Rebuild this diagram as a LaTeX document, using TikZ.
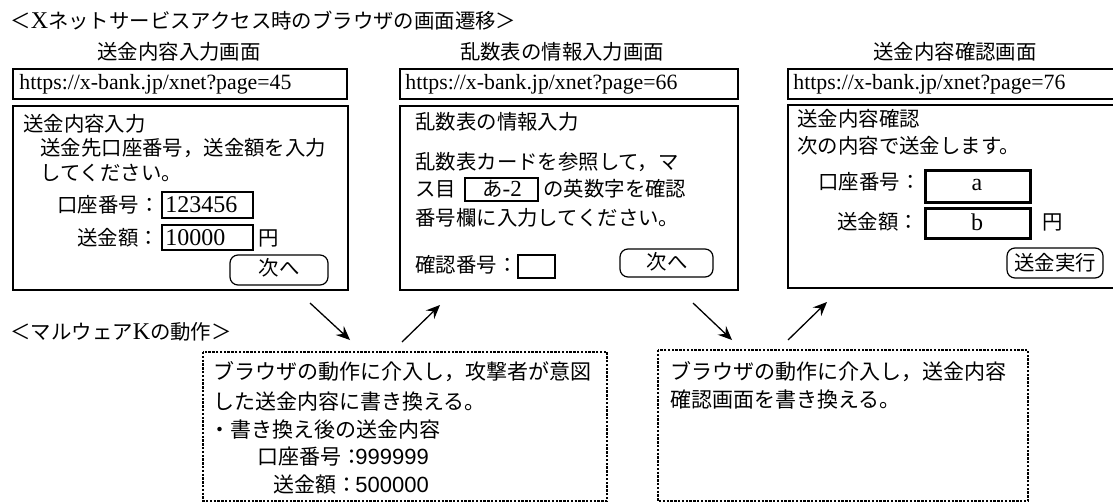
\documentclass[tikz,border=0pt]{standalone}
\usepackage{fontspec}
\setmainfont{Liberation Serif}
\newfontfamily\jp{Noto Sans CJK JP}
\newfontfamily\lsans{Liberation Sans}
\usetikzlibrary{arrows.meta}
\newcommand\jpf{\fontsize{10.2pt}{12pt}\selectfont\jp}
\newcommand\jpm{\fontsize{10.5pt}{12pt}\selectfont\jp}
\newcommand\lt[1]{{\rmfamily\fontsize{12pt}{14pt}\selectfont #1}}
\tikzset{
  txt/.style={anchor=west, inner sep=0pt, font=\jpf},
  ctxt/.style={anchor=center, inner sep=0pt, font=\jpf},
  mtxt/.style={anchor=west, inner sep=0pt, font=\jpm},
  urltxt/.style={anchor=west, inner sep=0pt, font=\fontsize{10.9pt}{12pt}\selectfont},
  valtxt/.style={anchor=west, inner sep=0pt, font=\fontsize{12pt}{14pt}\selectfont},
  cvaltxt/.style={anchor=center, inner sep=0pt, font=\fontsize{12pt}{14pt}\selectfont},
  numtxt/.style={anchor=west, inner sep=0pt, font=\fontsize{11pt}{13pt}\selectfont\lsans},
  urlbox/.style={draw, line width=0.6pt},
  screen/.style={draw, line width=0.75pt},
  field/.style={draw, line width=0.6pt},
  thickfield/.style={draw, line width=1.5pt},
  button/.style={draw, line width=0.6pt, rounded corners=4pt},
  malbox/.style={draw, line width=0.65pt, dash pattern=on 1.2pt off 0.7pt},
  flow/.style={line width=0.65pt, -{Stealth[length=7pt,width=6pt,inset=2.5pt]}},
}
\begin{document}
\begin{tikzpicture}[x=0.5pt,y=-0.5pt]
\useasboundingbox (0,0) rectangle (1113,503);
\clip (0,0) rectangle (1113,503);
\fill[white] (0,0) rectangle (1113,503);

% titles
\node[txt] (title1) at (10,21) {＜\lt{X}ネットサービスアクセス時のブラウザの画面遷移＞};
\node[txt] (title2) at (10,332) {＜マルウェア\lt{K}の動作＞};

% ---------- screen 1 ----------
\node[ctxt] (cap1) at (179,52) {送金内容入力画面};
\draw[urlbox] (13,69) rectangle (347,99);
\node[urltxt] (url1) at (19,84) {https://x-bank.jp/xnet?page=45};
\draw[screen] (13,106) rectangle (348,290);
\node[txt] (s1t1) at (23,124) {送金内容入力};
\node[txt] (s1t2) at (40,148) {送金先口座番号，送金額を入力};
\node[txt] (s1t3) at (40,173) {してください。};
\node[txt] (s1l1) at (57,205) {口座番号：};
\draw[field] (162,192) rectangle (253,218);
\node[valtxt] (s1v1) at (165,205) {123456};
\node[txt] (s1l2) at (77,238) {送金額：};
\draw[field] (162,225) rectangle (253,250);
\node[valtxt] (s1v2) at (165,238) {10000};
\node[txt] (s1yen) at (258,238) {円};
\draw[button] (230,255) rectangle (328,285);
\node[ctxt] (s1btn) at (279,268) {次へ};

% ---------- screen 2 ----------
\node[ctxt] (cap2) at (562,52) {乱数表の情報入力画面};
\draw[urlbox] (400,69) rectangle (738,99);
\node[urltxt] (url2) at (405,84) {https://x-bank.jp/xnet?page=66};
\draw[screen] (400,106) rectangle (738,290);
\node[txt] (s2t1) at (415,122) {乱数表の情報入力};
\node[txt] (s2t2) at (415,162) {乱数表カードを参照して，マ};
\node[txt] (s2t3a) at (415,189) {ス目};
\draw[field] (465,178) rectangle (538,201);
\node[ctxt] (s2cell) at (502,189) {あ{\rmfamily\fontsize{11.5pt}{13pt}\selectfont -2}};
\node[txt] (s2t3b) at (543,189) {の英数字を確認};
\node[txt] (s2t4) at (415,218) {番号欄に入力してください。};
\node[txt] (s2l1) at (415,265) {確認番号：};
\draw[field] (518,255) rectangle (555,278);
\draw[button] (620,249) rectangle (713,277);
\node[ctxt] (s2btn) at (667,262) {次へ};

% ---------- screen 3 ----------
\node[ctxt] (cap3) at (955,52) {送金内容確認画面};
\draw[urlbox] (788,69) rectangle (1125,99);
\node[urltxt] (url3) at (793,84) {https://x-bank.jp/xnet?page=76};
\draw[screen] (788,105) rectangle (1125,288);
\node[txt] (s3t1) at (797,119) {送金内容確認};
\node[txt] (s3t2) at (797,146) {次の内容で送金します。};
\node[txt] (s3l1) at (818,182) {口座番号：};
\draw[thickfield] (925,170) rectangle (1030,202);
\node[cvaltxt] (s3a) at (977,185) {a};
\node[txt] (s3l2) at (837,222) {送金額：};
\draw[thickfield] (925,208) rectangle (1030,238);
\node[cvaltxt] (s3b) at (977,222) {b};
\node[txt] (s3yen) at (1042,222) {円};
\draw[button] (1007,248) rectangle (1103,278);
\node[ctxt] (s3btn) at (1055,263) {送金実行};

% ---------- malware boxes ----------
\draw[malbox] (203,352) rectangle (607,501);
\node[mtxt] (m1t1) at (213,372) {ブラウザの動作に介入し，攻撃者が意図};
\node[mtxt] (m1t2) at (213,402) {した送金内容に書き換える。};
\node[mtxt] (m1t3) at (209,430) {・書き換え後の送金内容};
\node[mtxt] (m1t4) at (257,457) {口座番号：};
\node[numtxt] (m1v4) at (355,457) {999999};
\node[mtxt] (m1t5) at (273,485) {送金額：};
\node[numtxt] (m1v5) at (355,485) {500000};

\draw[malbox] (658,350) rectangle (1028,501);
\node[mtxt] (m2t1) at (670,372) {ブラウザの動作に介入し，送金内容};
\node[mtxt] (m2t2) at (670,400) {確認画面を書き換える。};

% ---------- arrows ----------
\coordinate (a1s) at (310,303); \coordinate (a1e) at (350,340);
\coordinate (a2s) at (402,342); \coordinate (a2e) at (440,305);
\coordinate (a3s) at (693,303); \coordinate (a3e) at (732,340);
\coordinate (a4s) at (788,340); \coordinate (a4e) at (827,302);
\draw[flow] (a1s) -- (a1e);
\draw[flow] (a2s) -- (a2e);
\draw[flow] (a3s) -- (a3e);
\draw[flow] (a4s) -- (a4e);
\end{tikzpicture}
\end{document}
